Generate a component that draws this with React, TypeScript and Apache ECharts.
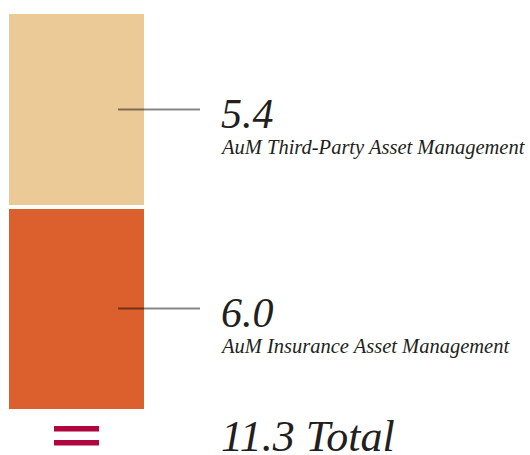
import React, { useEffect, useRef } from "react";
import * as echarts from "echarts";

const categories = ["AuM"];
const seriesNames = ["AuM Insurance Asset Management", "AuM Third-Party Asset Management"];
const seriesValues = [6.0, 5.4];
const valueLabels = ["6.0", "5.4"];
const totalLabel = "11.3 Total";
const barColors = ["#DC602E", "#EBCA98"];
const axisMin = 0.38;

const SERIF = "'Liberation Serif', 'DejaVu Serif', serif";

export default function App() {
  const ref = useRef<HTMLDivElement>(null);
  useEffect(() => {
    if (!ref.current) return;
    const chart = echarts.init(ref.current, undefined, { renderer: "svg" });
    const total = seriesValues.reduce((a, b) => a + b, 0);
    chart.setOption({
      animation: false,
      grid: { left: 7, top: 12, width: 139, bottom: 45 },
      xAxis: { type: "category", data: categories, show: false },
      yAxis: { type: "value", min: axisMin, max: total, show: false },
      series: seriesValues.map((v, i) => ({
        name: seriesNames[i],
        type: "bar",
        stack: "total",
        data: [v],
        barWidth: "100%",
        clip: true,
        itemStyle: { color: barColors[i], borderColor: "#ffffff", borderWidth: 2 },
        silent: true,
      })),
    });

    const graphics: any[] = [];
    let cum = 0;
    seriesValues.forEach((v, i) => {
      const start = Math.max(cum, axisMin);
      const end = cum + v;
      cum += v;
      const y0 = chart.convertToPixel({ yAxisIndex: 0 }, start) as number;
      const y1 = chart.convertToPixel({ yAxisIndex: 0 }, end) as number;
      const y = (y0 + y1) / 2;
      graphics.push(
        {
          type: "line",
          z: 100,
          shape: { x1: 118, y1: y, x2: 200, y2: y },
          style: { stroke: "rgba(0,0,0,0.47)", lineWidth: 2 },
        },
        {
          type: "text",
          z: 100,
          x: 221,
          y: y + 4,
          style: {
            text: valueLabels[i],
            font: `italic 42px ${SERIF}`,
            fill: "#231f20",
            verticalAlign: "middle",
          },
        },
        {
          type: "text",
          z: 100,
          x: 222,
          y: y + 37.5,
          style: {
            text: seriesNames[i],
            font: `italic 20.5px ${SERIF}`,
            fill: "#231f20",
            verticalAlign: "middle",
          },
        }
      );
    });
    graphics.push(
      { type: "rect", z: 100, shape: { x: 54, y: 426, width: 45, height: 5.5 }, style: { fill: "#B0053F" } },
      { type: "rect", z: 100, shape: { x: 54, y: 440, width: 45, height: 5.5 }, style: { fill: "#B0053F" } },
      {
        type: "text",
        z: 100,
        x: 221,
        y: 436,
        style: {
          text: totalLabel,
          font: `italic 44px ${SERIF}`,
          lineHeight: 30,
          fill: "#231f20",
          verticalAlign: "middle",
        },
      }
    );
    chart.setOption({ graphic: graphics });
    return () => chart.dispose();
  }, []);
  return (
    <div
      ref={ref}
      style={{ position: "absolute", left: 0, top: 0, width: 530, height: 455 }}
    />
  );
}
